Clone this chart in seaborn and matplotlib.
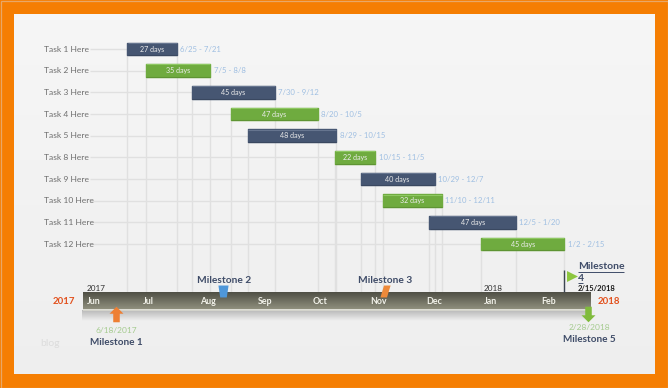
import numpy as np
import pandas as pd
import matplotlib
matplotlib.use("Agg")
import matplotlib.pyplot as plt
from matplotlib.patches import Rectangle
from matplotlib.path import Path
import seaborn as sns

tasks = ["Task 1 Here", "Task 2 Here", "Task 3 Here", "Task 4 Here", "Task 5 Here",
         "Task 8 Here", "Task 9 Here", "Task 10 Here", "Task 11 Here", "Task 12 Here"]
starts = ["2017-06-25", "2017-07-05", "2017-07-30", "2017-08-20", "2017-08-29",
          "2017-10-15", "2017-10-29", "2017-11-10", "2017-12-05", "2018-01-02"]
durations = [27, 35, 45, 47, 48, 22, 40, 32, 47, 45]
ranges = ["6/25 - 7/21", "7/5 - 8/8", "7/30 - 9/12", "8/20 - 10/5", "8/29 - 10/15",
          "10/15 - 11/5", "10/29 - 12/7", "11/10 - 12/11", "12/5 - 1/20", "1/2 - 2/15"]
groups = ["a", "b", "a", "b", "a", "b", "a", "b", "a", "b"]
months = ["Jun", "Jul", "Aug", "Sep", "Oct", "Nov", "Dec", "Jan", "Feb"]
month_starts = ["2017-06-01", "2017-07-01", "2017-08-01", "2017-09-01", "2017-10-01",
                "2017-11-01", "2017-12-01", "2018-01-01", "2018-02-01"]
timeline_end = "2018-03-02"
m_dates = ["2017-06-19", "2017-08-16", "2017-11-11", "2018-02-16", "2018-03-01"]

sns.set_theme(style="white")
plt.rcParams["font.family"] = ["Lato", "DejaVu Sans"]

ORIGIN = pd.Timestamp("2017-06-01")
PX_DAY = 1.853
X0 = 82.6
Y0, ROW = 49.0, 21.67


def day(s):
    return (pd.Timestamp(s) - ORIGIN).days


def xd(px):
    return (px - X0) / PX_DAY


def yr(py):
    return (py - Y0) / ROW


DARK, GREEN = "#465672", "#6fab3f"
TXT = "#3f4c68"
df = pd.DataFrame({"task": tasks, "dur": durations, "group": groups,
                   "left": [day(s) for s in starts]})

fig = plt.figure(figsize=(6.68, 3.88), dpi=100, facecolor="#f57e02")
ax = fig.add_axes([0, 0, 1, 1])

panel = np.linspace([0.965] * 3, [0.935] * 3, 64)[:, None, :]
ax.imshow(panel, extent=[xd(14), xd(654), yr(374), yr(14)], aspect="auto", zorder=0)
ax.add_patch(Rectangle((xd(0.5), yr(0.5)), 667 / PX_DAY, 387 / ROW, fill=False,
                       edgecolor="#e9a766", lw=0.9, zorder=1))

# reflection under the timeline
refl = np.zeros((32, 1, 4))
refl[..., :3] = 0.70
refl[..., 3] = np.linspace(0.9, 0.0, 32)[:, None]
ax.imshow(refl, extent=[xd(82), xd(590), yr(321), yr(310)], aspect="auto", zorder=1)

for g, col in (("a", DARK), ("b", GREEN)):
    sub = df[df["group"] == g]
    sns.barplot(data=sub, y="task", x="dur", order=tasks, left=sub["left"].values,
                color=col, saturation=1, width=0.58, ax=ax, zorder=4, errorbar=None)

for b in ax.patches:
    if b.get_zorder() == 4:
        b.set_edgecolor(b.get_facecolor())
        b.set_linewidth(1.0)
        b.set_joinstyle("round")

line = "#e0e0e0"
tl_top = yr(292)
for i, row in df.iterrows():
    s, e = row["left"], row["left"] + row["dur"]
    ax.hlines(i, xd(90), s, color=line, lw=1.0, zorder=2)
    ax.vlines([s, e], i, tl_top, color=line, lw=1.0, zorder=2)
    hi = "#8ec862" if row["group"] == "b" else "#66758f"
    lo = "#5e9433" if row["group"] == "b" else "#3a4860"
    ax.hlines(i - 0.285, s + 0.3, e - 0.3, color=hi, lw=0.8, zorder=5)
    ax.hlines(i + 0.285, s + 0.3, e - 0.3, color=lo, lw=0.8, zorder=5)
    ax.text(xd(44), i, row["task"], ha="left", va="center", fontsize=6.1, color="#6d6d6d", zorder=6)
    ax.text((s + e) / 2, i, f'{row["dur"]} days', ha="center", va="center", fontsize=5.1,
            color="#ececec", zorder=6)
    ax.text(e + 1.7, i, ranges[i], ha="left", va="center", fontsize=5.6, color="#9fbfe2", zorder=6)

# timeline band
band = np.linspace([0.31, 0.31, 0.27], [0.56, 0.56, 0.49], 64)[:, None, :]
t_end = day(timeline_end)
ax.imshow(band, extent=[0, t_end, yr(309), yr(292)], aspect="auto", zorder=3)
ax.hlines(yr(309.7), 0, t_end, color="#d9d9cf", lw=1.2, zorder=3)
for m, s in zip(months, month_starts):
    ax.text(day(s) + 2.4, yr(301), m, ha="left", va="center", fontsize=6.4, fontweight="bold",
            color="#f2f2ea", zorder=6)

# milestone markers
up = Path([(-.42, -1), (.42, -1), (.42, .1), (.9, .1), (0, 1), (-.9, .1), (-.42, .1), (-.42, -1)], closed=True)
down = Path([(-.42, 1), (.42, 1), (.42, -.1), (.9, -.1), (0, -1), (-.9, -.1), (-.42, -.1), (-.42, 1)], closed=True)
trap = Path([(-.85, 1), (.85, 1), (.55, -1), (-.55, -1), (-.85, 1)], closed=True)
para = Path([(-.25, 1), (.85, 1), (.25, -1), (-.85, -1), (-.25, 1)], closed=True)
ax.scatter([day(m_dates[0])], [yr(314)], marker=up, s=125, color="#ee7f33", zorder=7, linewidths=0)
ax.scatter([day(m_dates[1])], [yr(291)], marker=trap, s=74, color="#4f97d9", zorder=7, linewidths=0)
ax.scatter([day(m_dates[2])], [yr(291)], marker=para, s=74, color="#ee8a3a", zorder=7, linewidths=0)
ax.vlines(day(m_dates[3]), yr(270), tl_top, color="#3c4552", lw=1.0, zorder=7)
ax.scatter([day(m_dates[3]) + 7.5 / PX_DAY], [yr(275.5)], marker=">", s=62, color="#8cc63f", zorder=7, linewidths=0)
ax.scatter([day(m_dates[4])], [yr(313.5)], marker=down, s=125, color="#80bb3c", zorder=7, linewidths=0)

ax.text(xd(116), yr(330), "6/18/2017", ha="center", va="center", fontsize=6, color="#a5cb8f", zorder=8)
ax.text(xd(116), yr(342), "Milestone 1", ha="center", va="center", fontsize=7.2, fontweight="bold", color=TXT, zorder=8)
ax.text(xd(224), yr(280), "Milestone 2", ha="center", va="center", fontsize=7.3, fontweight="bold", color=TXT, zorder=8)
ax.text(xd(385), yr(280), "Milestone 3", ha="center", va="center", fontsize=7.3, fontweight="bold", color=TXT, zorder=8)
ax.text(xd(578), yr(266), "Milestone", ha="left", va="center", fontsize=7.5, fontweight="bold", color=TXT, zorder=8)
ax.text(xd(578), yr(278), "4", ha="left", va="center", fontsize=7.5, fontweight="bold", color=TXT, zorder=8)
ax.hlines(yr(271.5), xd(578), xd(624), color=TXT, lw=0.7, zorder=8)
ax.hlines(yr(283), xd(578), xd(583), color=TXT, lw=0.7, zorder=8)
ax.text(xd(578), yr(288), "2/15/2018", ha="left", va="center", fontsize=5.5, fontweight="bold", color="#1c1c1c", zorder=8)
ax.text(xd(589), yr(327), "2/28/2018", ha="center", va="center", fontsize=6, color="#a5cb8f", zorder=8)
ax.text(xd(589), yr(339), "Milestone 5", ha="center", va="center", fontsize=7.2, fontweight="bold", color=TXT, zorder=8)

ax.text(xd(53), yr(301), "2017", ha="left", va="center", fontsize=6.9, fontweight="bold", color="#e2501c", zorder=8)
ax.text(xd(598), yr(301), "2018", ha="left", va="center", fontsize=6.9, fontweight="bold", color="#e2501c", zorder=8)
ax.text(xd(87), yr(288), "2017", ha="left", va="center", fontsize=5.9, color="#333333", zorder=8)
ax.text(xd(484), yr(288), "2018", ha="left", va="center", fontsize=5.9, color="#333333", zorder=8)
ax.text(xd(40), yr(343), "blog", ha="left", va="center", fontsize=7.5, color="#dcdcdc", zorder=8)

ax.set_xlim(xd(0), xd(668))
ax.set_ylim(yr(388), yr(0))
ax.set_axis_off()
fig.savefig("out.png", dpi=100, facecolor=fig.get_facecolor())
